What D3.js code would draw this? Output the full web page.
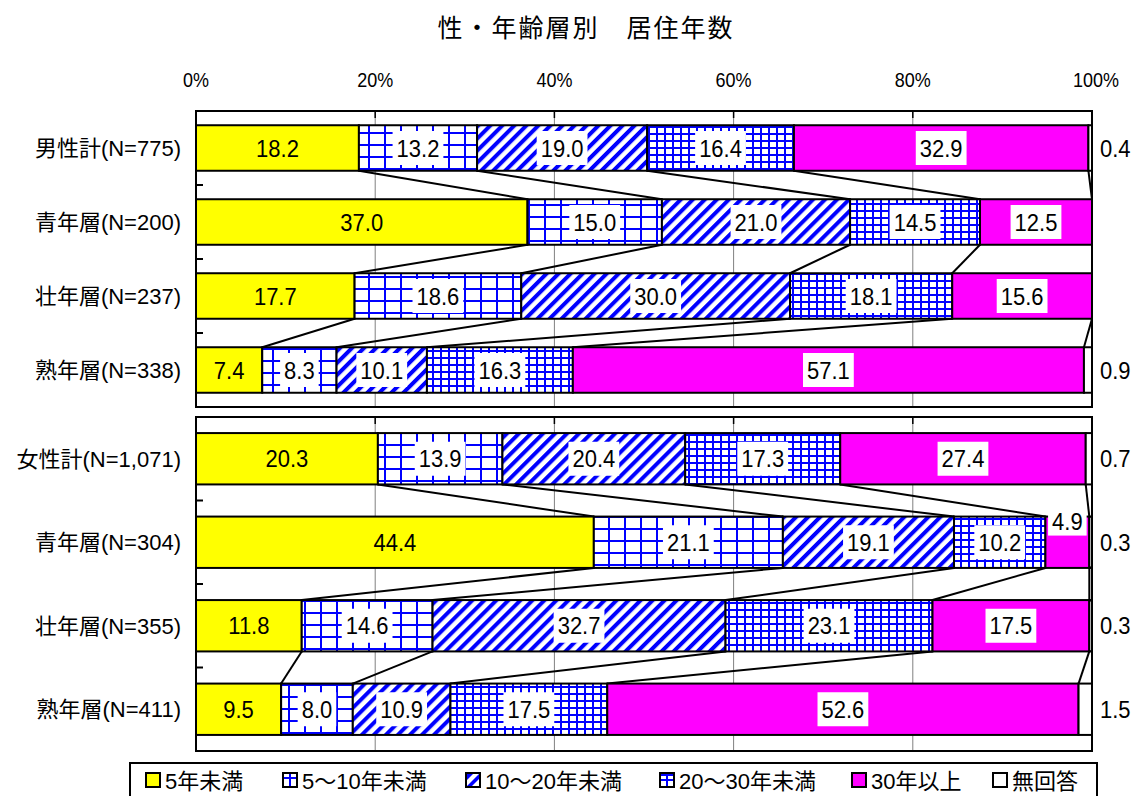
<!DOCTYPE html>
<html>
<head>
<meta charset="utf-8">
<script src="https://d3js.org/d3.v7.min.js"></script>
<style>
  body { margin: 0; background: #fff; }
  svg { display: block; }
  text { font-family: "Liberation Sans", Arial, "Noto Sans CJK JP", sans-serif; fill: #000; }
  .jp { font-family: "Liberation Sans", "Noto Sans CJK JP", sans-serif; }
</style>
</head>
<body>
<script>
// categories (two groups: male / female)
const maleRows = ["男性計(N=775)", "青年層(N=200)", "壮年層(N=237)", "熟年層(N=338)"];
const femaleRows = ["女性計(N=1,071)", "青年層(N=304)", "壮年層(N=355)", "熟年層(N=411)"];
const seriesNames = ["5年未満", "5～10年未満", "10～20年未満", "20～30年未満", "30年以上", "無回答"];
const tickLabels = ["0%", "20%", "40%", "60%", "80%", "100%"];

// series values, rows in order: male total, male young, middle, senior, female total, young, middle, senior
const under5   = [18.2, 37.0, 17.7, 7.4, 20.3, 44.4, 11.8, 9.5];
const y5to10   = [13.2, 15.0, 18.6, 8.3, 13.9, 21.1, 14.6, 8.0];
const y10to20  = [19.0, 21.0, 30.0, 10.1, 20.4, 19.1, 32.7, 10.9];
const y20to30  = [16.4, 14.5, 18.1, 16.3, 17.3, 10.2, 23.1, 17.5];
const over30   = [32.9, 12.5, 15.6, 57.1, 27.4, 4.9, 17.5, 52.6];
const noAnswer = [0.4, 0, 0, 0.9, 0.7, 0.3, 0.3, 1.5];

const series = [under5, y5to10, y10to20, y20to30, over30, noAnswer];
const fills = ["#ffff00", "url(#pGrid)", "url(#pDiag)", "url(#pDense)", "#ff00ff", "#ffffff"];

const W = 1131, H = 796;
const svg = d3.select("body").append("svg").attr("width", W).attr("height", H);
const defs = svg.append("defs");

// patterns
const pg = defs.append("pattern").attr("id", "pGrid").attr("patternUnits", "userSpaceOnUse")
  .attr("width", 16).attr("height", 12);
pg.append("rect").attr("width", 16).attr("height", 12).attr("fill", "#fff");
pg.append("rect").attr("x", 0).attr("width", 2).attr("height", 12).attr("fill", "#0000ff");
pg.append("rect").attr("y", 0).attr("width", 16).attr("height", 2).attr("fill", "#0000ff");

const pd = defs.append("pattern").attr("id", "pDiag").attr("patternUnits", "userSpaceOnUse")
  .attr("width", 8.5).attr("height", 8.5).attr("patternTransform", "rotate(45)");
pd.append("rect").attr("width", 8.5).attr("height", 8.5).attr("fill", "#fff");
pd.append("rect").attr("width", 4).attr("height", 8.5).attr("fill", "#0000ff");

const pn = defs.append("pattern").attr("id", "pDense").attr("patternUnits", "userSpaceOnUse")
  .attr("width", 8).attr("height", 7);
pn.append("rect").attr("width", 8).attr("height", 7).attr("fill", "#fff");
pn.append("rect").attr("width", 2).attr("height", 7).attr("fill", "#0000ff");
pn.append("rect").attr("width", 8).attr("height", 2).attr("fill", "#0000ff");

// legend-size pattern
const lg = defs.append("pattern").attr("id", "lGrid").attr("patternUnits", "objectBoundingBox")
  .attr("width", 1).attr("height", 1);
lg.append("rect").attr("width", 14).attr("height", 14).attr("fill", "#fff");
lg.append("rect").attr("x", 6).attr("width", 2).attr("height", 14).attr("fill", "#0000ff");
lg.append("rect").attr("y", 4).attr("width", 14).attr("height", 2).attr("fill", "#0000ff");

const x = d3.scaleLinear().domain([0, 100]).range([196, 1092]);

// slightly tall text like the original rendering
function tallText(parent, tx, ty, str, size, anchor) {
  return parent.append("text")
    .attr("transform", `translate(${tx},${ty}) scale(1,1.1)`)
    .attr("text-anchor", anchor || "start")
    .style("font-size", size + "px")
    .text(str);
}

// title
svg.append("text")
  .attr("x", 586).attr("y", 37)
  .attr("text-anchor", "middle")
  .style("font-family", "'Noto Sans CJK JP', sans-serif")
  .style("font-size", "25px").style("letter-spacing", "2px")
  .text("性・年齢層別　居住年数");

// top axis labels
d3.range(0, 101, 20).forEach((d, i) => {
  tallText(svg, x(d) + (d === 100 ? 4 : 0), 87, tickLabels[i], 18, "middle");
});

function drawPanel(labels, offset, top, bottom) {
  const g = svg.append("g");
  const y = d3.scaleBand().domain(labels).range([top, bottom])
    .paddingInner(0.385).paddingOuter(0.1925);
  const bw = y.bandwidth();

  const rows = labels.map((lab, i) => {
    const vals = series.map(s => s[offset + i]);
    const total = d3.sum(vals);
    let acc = 0;
    const segs = vals.map((v, k) => {
      const s = { k, v, x0: acc / total * 100 };
      acc += v;
      s.x1 = acc / total * 100;
      return s;
    });
    return { lab, segs };
  });

  // gridlines
  g.selectAll(".grid").data([20, 40, 60, 80]).enter().append("line")
    .attr("x1", d => x(d)).attr("x2", d => x(d))
    .attr("y1", top).attr("y2", bottom)
    .attr("stroke", "#808080").attr("stroke-width", 1);
  // top inside ticks
  g.selectAll(".ttick").data([20, 40, 60, 80]).enter().append("line")
    .attr("x1", d => x(d)).attr("x2", d => x(d))
    .attr("y1", top).attr("y2", top + 7)
    .attr("stroke", "#000").attr("stroke-width", 1.5);

  // series lines between bars
  for (let i = 0; i < rows.length - 1; i++) {
    for (let k = 0; k < 5; k++) {
      g.append("line")
        .attr("x1", x(rows[i].segs[k].x1)).attr("y1", y(rows[i].lab) + bw)
        .attr("x2", x(rows[i + 1].segs[k].x1)).attr("y2", y(rows[i + 1].lab))
        .attr("stroke", "#000").attr("stroke-width", 2);
    }
  }

  // bars
  rows.forEach(r => {
    const by = y(r.lab);
    g.selectAll(null).data(r.segs.filter(s => s.v > 0)).enter().append("rect")
      .attr("x", s => x(s.x0)).attr("y", by)
      .attr("width", s => x(s.x1) - x(s.x0)).attr("height", bw)
      .attr("fill", s => fills[s.k])
      .attr("stroke", "#000").attr("stroke-width", 2);

    // labels
    r.segs.forEach(s => {
      if (s.v <= 0) return;
      if (s.k === 5) {
        tallText(g, 1100, by + bw / 2 + 8.5, s.v.toFixed(1), 22);
        return;
      }
      const wpx = x(s.x1) - x(s.x0);
      const cx = (x(s.x0) + x(s.x1)) / 2;
      const cy = wpx < 50 ? by + 5 : by + bw / 2;
      const t = tallText(g, cx, cy + 8.5, s.v.toFixed(1), 22, "middle");
      if (s.k > 0) {
        const tw = t.node().getComputedTextLength();
        const bh = wpx < 50 ? 28 : 34;
        g.insert("rect", () => t.node())
          .attr("x", cx - tw / 2 - 4).attr("y", cy - bh / 2)
          .attr("width", tw + 8).attr("height", bh)
          .attr("fill", "#fff");
      }
    });

    // category label
    svg.append("text").attr("class", "jp")
      .attr("x", 181).attr("y", by + bw / 2 + 8)
      .attr("text-anchor", "end")
      .style("font-size", "22px").text(r.lab);
  });

  // left inside ticks at category boundaries
  const step = y.step();
  g.selectAll(".ltick").data(d3.range(1, labels.length)).enter().append("line")
    .attr("x1", 196).attr("x2", 203)
    .attr("y1", d => top + d * step).attr("y2", d => top + d * step)
    .attr("stroke", "#000").attr("stroke-width", 2);

  // frame
  g.append("rect").attr("x", 196).attr("y", top)
    .attr("width", x(100) - 196).attr("height", bottom - top)
    .attr("fill", "none").attr("stroke", "#000").attr("stroke-width", 2);
}

drawPanel(maleRows, 0, 111, 407);
drawPanel(femaleRows, 4, 417, 751);

// legend
const legend = svg.append("g");
legend.append("rect").attr("x", 130).attr("y", 763).attr("width", 967).attr("height", 45)
  .attr("fill", "#fff").attr("stroke", "#000").attr("stroke-width", 2);
const legX = [146, 283, 466, 660, 852, 993];
const legFill = ["#ffff00", "url(#lGrid)", null, null, "#ff00ff", "#ffffff"];
seriesNames.forEach((name, i) => {
  const lx = legX[i];
  if (i === 2) {
    legend.append("rect").attr("x", lx).attr("y", 773).attr("width", 14).attr("height", 14).attr("fill", "#fff");
    legend.append("path").attr("d", `M${lx},${773 + 14}L${lx + 14},${773}L${lx + 14},${773 + 5}L${lx + 5},${773 + 14}Z`).attr("fill", "#0000ff");
    legend.append("path").attr("d", `M${lx},${773 + 8}L${lx + 8},${773}L${lx},${773}Z`).attr("fill", "#0000ff");
  } else if (i === 3) {
    legend.append("rect").attr("x", lx).attr("y", 773).attr("width", 14).attr("height", 14).attr("fill", "#fff");
    legend.append("rect").attr("x", lx + 6).attr("y", 773).attr("width", 2).attr("height", 14).attr("fill", "#0000ff");
    legend.append("rect").attr("x", lx).attr("y", 779).attr("width", 14).attr("height", 2).attr("fill", "#0000ff");
    legend.append("rect").attr("x", lx).attr("y", 773).attr("width", 14).attr("height", 3).attr("fill", "#0000ff");
  } else {
    legend.append("rect").attr("x", lx).attr("y", 773).attr("width", 14).attr("height", 14).attr("fill", legFill[i]);
  }
  legend.append("rect").attr("x", lx).attr("y", 773).attr("width", 14).attr("height", 14)
    .attr("fill", "none").attr("stroke", "#000").attr("stroke-width", 2);
  legend.append("text").attr("class", "jp")
    .attr("x", lx + 19).attr("y", 789)
    .style("font-size", "22px").text(name);
});
</script>
</body>
</html>
